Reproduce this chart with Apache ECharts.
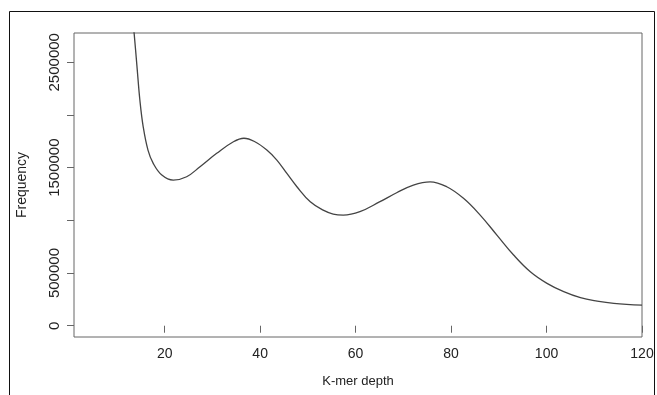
<!DOCTYPE html>
<html>
<head>
<meta charset="utf-8">
<script src="https://cdn.jsdelivr.net/npm/echarts@6/dist/echarts.min.js"></script>
<style>
  html, body { margin: 0; padding: 0; background: #fff; }
  #chart { width: 657px; height: 395px; }
</style>
</head>
<body>
<div id="chart"></div>
<script>
// k-mer depth histogram
const depth = [12.5, 13.6, 14.2, 14.8, 15.5, 16.5, 17.6, 19.4, 21.8, 24.6, 27.4, 30.9, 34.4, 36.6, 38.9,
  41.4, 43.5, 45.6, 47.7, 50.5, 53.2, 55.3, 57.4, 60.9, 65.1, 68.6, 72.1, 75.6, 79.1, 82.6,
  86.1, 89.6, 93.1, 96.6, 100.1, 103.6, 107.1, 110.6, 114.1, 120];
const freq = [3300000, 2774000, 2457000, 2142000, 1888000, 1667000, 1541000, 1430000, 1382000, 1414000,
  1509000, 1636000, 1746000, 1779000, 1746000, 1667000, 1572000, 1445000, 1319000, 1176000,
  1097000, 1060000, 1050000, 1082000, 1177000, 1262000, 1335000, 1366000, 1319000, 1209000,
  1050000, 860000, 671000, 512000, 402000, 323000, 266000, 234000, 213000, 196000];

const xTicks = [20, 40, 60, 80, 100, 120];
const yTicks = [0, 500000, 1000000, 1500000, 2000000, 2500000];
// R leaves out the labels that would overlap
const yLabels = [0, 500000, 1500000, 2500000];

const chart = echarts.init(document.getElementById('chart'));

const textColor = '#222';
const axisColor = '#666';

const option = {
  animation: false,
  backgroundColor: '#fff',
  textStyle: { fontFamily: 'Liberation Sans, Arial, sans-serif' },
  graphic: [
    {
      type: 'rect',
      shape: { x: 9.5, y: 11.5, width: 645, height: 400 },
      style: { fill: 'none', stroke: '#111', lineWidth: 1 },
      silent: true,
    },
  ],
  grid: {
    left: 74,
    right: 15,
    top: 33,
    bottom: 58,
    show: true,
    borderColor: axisColor,
    borderWidth: 1,
  },
  xAxis: {
    type: 'value',
    min: 1,
    max: 120,
    name: 'K-mer depth',
    nameLocation: 'middle',
    nameGap: 38,
    nameTextStyle: { color: textColor, fontSize: 13 },
    axisLine: { show: false },
    splitLine: { show: false },
    axisTick: {
      show: true,
      length: 7,
      customValues: xTicks,
      lineStyle: { color: axisColor },
    },
    axisLabel: {
      customValues: xTicks,
      color: textColor,
      fontSize: 14,
      margin: 10,
    },
  },
  yAxis: {
    type: 'value',
    min: -107000,
    max: 2778000,
    name: 'Frequency',
    nameLocation: 'middle',
    nameGap: 45,
    nameRotate: 90,
    nameTextStyle: { color: textColor, fontSize: 14 },
    axisLine: { show: false },
    splitLine: { show: false },
    axisTick: {
      show: true,
      length: 7,
      customValues: yTicks,
      lineStyle: { color: axisColor },
    },
    axisLabel: {
      customValues: yLabels,
      formatter: (v) => String(v),
      color: textColor,
      fontSize: 15,
      rotate: 90,
      margin: 12,
    },
  },
  series: [
    {
      type: 'line',
      data: depth.map((d, i) => [d, freq[i]]),
      smooth: 0.4,
      symbol: 'none',
      clip: true,
      lineStyle: { color: '#444', width: 1.3 },
    },
  ],
};

chart.setOption(option);
</script>
</body>
</html>
